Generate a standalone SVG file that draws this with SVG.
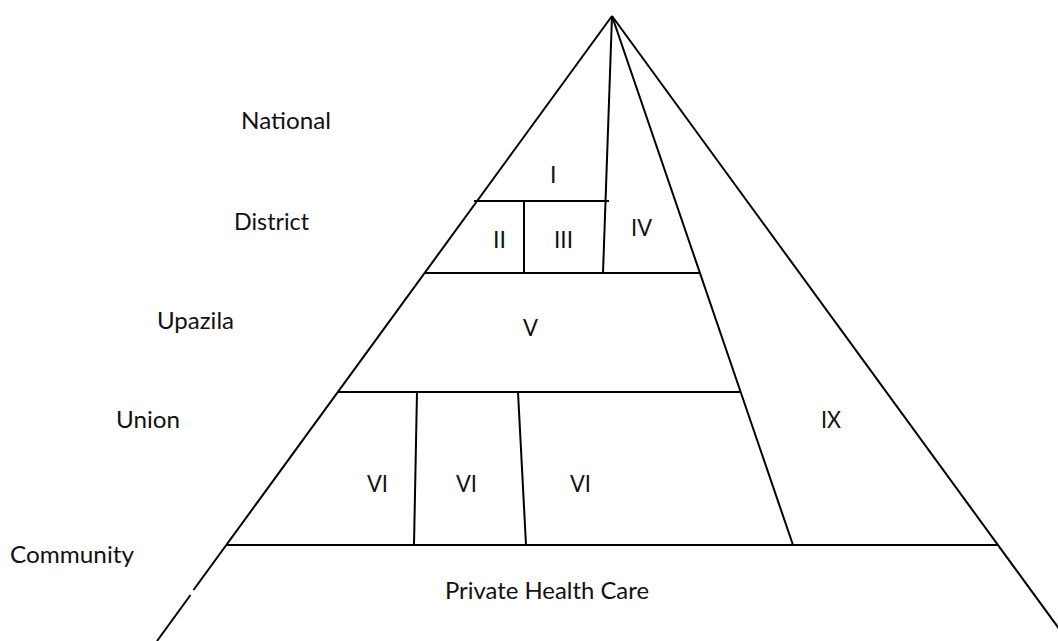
<svg xmlns="http://www.w3.org/2000/svg" width="1058" height="641" viewBox="0 0 1058 641">
  <style>
    .ln { stroke: #000; stroke-width: 2; fill: none; stroke-linecap: butt; }
    .lbl { font-family: Lato, "Open Sans", "Liberation Sans", sans-serif; font-size: 23px; fill: #111; }
  </style>
  <rect width="1058" height="641" fill="#fff"/>

  <!-- pyramid outline and internal partitions -->
  <g id="connectors">
    <line class="ln" x1="612" y1="16" x2="193.5" y2="590"/>
    <line class="ln" x1="190.5" y1="595" x2="157" y2="641"/>
    <line class="ln" x1="612" y1="16" x2="1068" y2="641"/>
    <line class="ln" x1="612" y1="16" x2="603" y2="273"/>
    <line class="ln" x1="612" y1="16" x2="793" y2="545"/>
    <line class="ln" x1="474" y1="201" x2="609" y2="201"/>
    <line class="ln" x1="524" y1="201" x2="524" y2="273"/>
    <line class="ln" x1="425" y1="273" x2="700" y2="273"/>
    <line class="ln" x1="338" y1="392" x2="741" y2="392"/>
    <line class="ln" x1="417" y1="392" x2="414" y2="545"/>
    <line class="ln" x1="518" y1="392" x2="526" y2="545"/>
    <line class="ln" x1="227" y1="545" x2="998" y2="545"/>
  </g>

  <!-- level names -->
  <g id="level-national"><text class="lbl" x="241" y="129" textLength="90" lengthAdjust="spacingAndGlyphs">National</text></g>
  <g id="level-district"><text class="lbl" x="234" y="230" textLength="75" lengthAdjust="spacingAndGlyphs">District</text></g>
  <g id="level-upazila"><text class="lbl" x="157" y="329" textLength="77" lengthAdjust="spacingAndGlyphs">Upazila</text></g>
  <g id="level-union"><text class="lbl" x="116" y="428" textLength="64" lengthAdjust="spacingAndGlyphs">Union</text></g>
  <g id="level-community"><text class="lbl" x="10" y="563" textLength="124" lengthAdjust="spacingAndGlyphs">Community</text></g>

  <!-- tiers -->
  <g id="tier-i"><text class="lbl" x="550" y="183">I</text></g>
  <g id="tier-ii"><text class="lbl" x="493" y="248" textLength="13" lengthAdjust="spacingAndGlyphs">II</text></g>
  <g id="tier-iii"><text class="lbl" x="554" y="248" textLength="19" lengthAdjust="spacingAndGlyphs">III</text></g>
  <g id="tier-iv"><text class="lbl" x="631" y="236" textLength="21" lengthAdjust="spacingAndGlyphs">IV</text></g>
  <g id="tier-v"><text class="lbl" x="523" y="336" textLength="15" lengthAdjust="spacingAndGlyphs">V</text></g>
  <g id="tier-vi-a"><text class="lbl" x="367" y="492" textLength="21" lengthAdjust="spacingAndGlyphs">VI</text></g>
  <g id="tier-vi-b"><text class="lbl" x="456" y="492" textLength="21" lengthAdjust="spacingAndGlyphs">VI</text></g>
  <g id="tier-vi-c"><text class="lbl" x="570" y="492" textLength="21" lengthAdjust="spacingAndGlyphs">VI</text></g>
  <g id="tier-ix"><text class="lbl" x="821" y="428" textLength="20" lengthAdjust="spacingAndGlyphs">IX</text></g>
  <g id="private-care"><text class="lbl" x="445" y="599" textLength="204" lengthAdjust="spacingAndGlyphs">Private Health Care</text></g>
</svg>
